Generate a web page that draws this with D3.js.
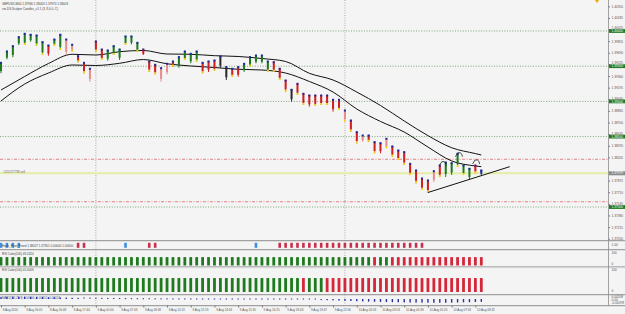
<!DOCTYPE html>
<html>
<head>
<meta charset="utf-8">
<script src="https://cdn.jsdelivr.net/npm/d3@7"></script>
<style>
body { margin: 0; background: #f4f4f4; }
svg { display: block; font-family: "Liberation Sans", Arial, sans-serif; }
</style>
</head>
<body>
<svg id="chart" width="625" height="314"></svg>
<script>
// candles, one entry per bar (high / low / colour kind / yellow tail)
var highs = [1.39555, 1.39716, 1.39791, 1.39919, 1.39967, 1.39953, 1.39943, 1.39848, 1.39801, 1.39886,
    1.39953, 1.39886, 1.39811, 1.39649, 1.39555, 1.39470, 1.39858, 1.39744, 1.39730, 1.39791,
    1.39744, 1.39929, 1.39929, 1.39839, 1.39744, 1.39574, 1.39527, 1.39479, 1.39541, 1.39574,
    1.39635, 1.39716, 1.39683, 1.39716, 1.39555, 1.39574, 1.39588, 1.39645, 1.39493, 1.39470,
    1.39493, 1.39541, 1.39635, 1.39659, 1.39659, 1.39574, 1.39564, 1.39470, 1.39304, 1.39172,
    1.39257, 1.39115, 1.39091, 1.39091, 1.39091, 1.39091, 1.39030, 1.39030, 1.38878, 1.38736,
    1.38570, 1.38523, 1.38523, 1.38428, 1.38413, 1.38476, 1.38367, 1.38310, 1.38286, 1.38121,
    1.38026, 1.37912, 1.37884, 1.38016, 1.38097, 1.38139, 1.38129, 1.38263, 1.38097, 1.38050,
    1.38097, 1.38026];
var lows = [1.39399, 1.39598, 1.39626, 1.39801, 1.39801, 1.39848, 1.39791, 1.39659, 1.39649, 1.39791,
    1.39730, 1.39659, 1.39706, 1.39555, 1.39399, 1.39280, 1.39706, 1.39588, 1.39578, 1.39659,
    1.39588, 1.39801, 1.39811, 1.39706, 1.39659, 1.39422, 1.39385, 1.39280, 1.39385, 1.39493,
    1.39479, 1.39588, 1.39541, 1.39564, 1.39399, 1.39418, 1.39432, 1.39474, 1.39304, 1.39351,
    1.39351, 1.39418, 1.39493, 1.39541, 1.39541, 1.39422, 1.39422, 1.39304, 1.39138, 1.38996,
    1.39091, 1.38949, 1.38925, 1.38935, 1.38949, 1.38949, 1.38854, 1.38878, 1.38712, 1.38570,
    1.38405, 1.38428, 1.38428, 1.38263, 1.38263, 1.38334, 1.38215, 1.38168, 1.38097, 1.37955,
    1.37837, 1.37742, 1.37706, 1.37855, 1.37926, 1.37926, 1.37955, 1.38068, 1.37955, 1.37894,
    1.37979, 1.37955];
var kinds = ["g","g","g","g","g","g","g","g","r","g",
    "g","p","p","r","r","p","r","r","g","g",
    "g","g","g","g","r","r","r","p","p","r",
    "g","g","g","g","r","r","r","k","k","r",
    "r","g","g","g","g","g","r","r","r","k",
    "r","r","r","r","r","r","r","r","p","r",
    "r","p","r","r","r","p","r","r","r","r",
    "r","r","r","p","r","g","g","g","g","g",
    "r","b"];
var tails = [0,0,0,0,1,0,1,1,0,1, 1,0,1,1,1,0,1,1,0,1, 0,1,0,1,0,1,1,0,0,1,
    0,1,0,1,1,0,1,0,0,1, 0,0,1,0,0,1,1,1,1,0, 1,1,0,1,1,1,0,1,1,1,
    1,0,1,1,0,1,1,1,1,1, 1,1,1,0,1,0,0,1,1,0, 1,0];

// two moving averages, read every 4th bar
var maBars = [0,4,8,12,16,20,24,28,32,36,40,44,48,52,56,60,64,68,72,76,80,81];
var maUpper = [1.39162,1.39354,1.39538,1.39669,1.39659,1.39706,1.39723,1.39673,1.39669,1.39649,1.39638,
    1.39609,1.39567,1.39399,1.39304,1.39133,1.38942,1.38722,1.38514,1.38342,1.38259,1.38239];
var maLower = [1.39006,1.39247,1.39403,1.39517,1.39510,1.39541,1.39595,1.39534,1.39503,1.39481,1.39456,
    1.39446,1.39403,1.39283,1.39133,1.38892,1.38715,1.38565,1.38352,1.38154,1.38083,1.38073];

// drawn objects
var trendBars = [72, 85.8];
var trendPrices = [1.37706, 1.38073];
var hatBars = [74.6, 77.3, 80.2];
var hatPrices = [1.38144, 1.38271, 1.38168];
var roundLevels = [1.40000, 1.39500, 1.39000, 1.38500, 1.37500];
var pivotLevels = [1.38178, 1.37575];
var orderPrice = 1.37979;
var separatorBars = [16, 58];

// right scale + time scale
var priceTicks = [1.40350, 1.40185, 1.40020, 1.39855, 1.39690, 1.39525, 1.39360, 1.39195, 1.39030, 1.38865,
    1.38700, 1.38535, 1.38370, 1.38205, 1.37875, 1.37710, 1.37545, 1.37380, 1.37215, 1.37050];
var timeBars = [0,4,8,12,16,20,24,28,32,36,40,44,48,52,56,60,64,68,72,76,80];
var timeLabels = ["8 Aug 2020","8 Aug 16:05","8 Aug 16:48","8 Aug 17:44","9 Aug 00:00","9 Aug 07:43",
    "9 Aug 08:48","9 Aug 10:13","9 Aug 12:19","9 Aug 14:06","9 Aug 15:35","9 Aug 16:25","9 Aug 18:03",
    "9 Aug 19:47","9 Aug 22:06","10 Aug 02:03","10 Aug 03:03","10 Aug 04:39","10 Aug 05:20",
    "10 Aug 07:03","10 Aug 08:32"];

// sub windows
var pivotSignal = [1,1,1,1,0,0,0,0,0,0, 0,0,0,-1,-1,0,0,0,0,0, 0,1,0,0,0,-1,-1,0,0,0,
    0,0,0,0,0,0,0,0,0,0, 0,0,0,1,0,0,0,-1,-1,-1, -1,-1,-1,-1,-1,-1,-1,-1,-1,-1,
    -1,-1,-1,-1,-1,-1,-1,-1,-1,-1, -1,-1,0,0,0,0,0,0,0,0, 0,0];
var rsi200 = [57.8,57.9,58.1,58.3,58.4,58.5,58.5,58.4,58.3,58.3,
    58.3,58.2,58.0,57.8,57.5,57.2,57.0,56.9,56.9,56.9,
    57.0,57.1,57.1,57.1,57.0,56.7,56.4,56.1,55.9,55.7,
    55.7,55.7,55.7,55.7,55.4,55.2,55.0,54.9,54.6,54.4,
    54.3,54.3,54.4,54.5,54.5,54.4,54.2,53.9,53.5,53.1,
    52.8,52.5,52.2,52.0,51.8,51.6,51.4,51.2,50.9,50.6,
    50.4,50.2,50.1,49.9,50.1,50.1,49.8,49.6,49.4,49.1,
    48.9,48.7,48.6,48.7,48.8,48.9,49.0,49.1,49.2,49.2,
    49.2,49.2424];
var rsi100 = [58.9,59.2,59.6,60.0,60.3,60.5,60.4,60.2,59.8,59.7,
    59.7,59.5,59.1,58.6,57.9,57.2,56.9,56.7,56.6,56.7,
    56.9,57.1,57.2,57.2,56.9,56.3,55.7,55.2,54.9,54.8,
    54.9,55.1,55.1,55.2,54.7,54.3,54.1,53.9,53.4,53.1,
    53.0,53.1,53.3,53.6,53.7,53.5,53.0,52.4,51.6,51.0,
    50.4,49.8,50.2,50.3,50.1,49.6,48.9,48.3,47.8,47.1,
    46.5,46.1,45.8,45.5,45.2,45.0,44.7,44.4,44.1,43.7,
    43.4,43.1,43.0,43.3,43.6,44.0,44.4,44.9,45.2,45.4,
    45.6,45.6058];
var macdHist = [0.00150,0.00155,0.00160,0.00160,0.00158,0.00152,0.00146,0.00138,0.00128,0.00118,
    0.00108,0.00098,0.00088,0.00078,0.00068,0.00060,0.00052,0.00046,0.00040,0.00036,
    0.00032,0.00028,0.00025,0.00022,0.00019,0.00016,0.00013,0.00011,0.00009,0.00007,
    0.00006,0.00005,0.00005,0.00004,0.00003,0.00003,0.00002,0.00002,0.00001,0.00001,
    0.00000,-0.00001,-0.00001,-0.00002,-0.00003,-0.00004,-0.00006,-0.00010,-0.00016,-0.00024,
    -0.00032,-0.00042,-0.00052,-0.00062,-0.00072,-0.00082,-0.00094,-0.00108,-0.00122,-0.00136,
    -0.00150,-0.00164,-0.00176,-0.00188,-0.00198,-0.00208,-0.00218,-0.00226,-0.00234,-0.00240,
    -0.00246,-0.00250,-0.00254,-0.00256,-0.00256,-0.00254,-0.00248,-0.00240,-0.00230,-0.00218,
    -0.00206,-0.00194];

var candleColor = { g: "#1f7a1f", r: "#cf1f24", p: "#e88c8c", k: "#2b2b2b", b: "#2233aa" };

var svg = d3.select("#chart");
var W = 625, axisX = 608.5;

svg.append("rect").attr("width", W).attr("height", 314).attr("fill", "#f4f4f4");

var x = d3.scaleLinear().domain([0, 81]).range([1, 481.3]);
var y = d3.scaleLinear().domain([1.37060, 1.40440]).range([238, 0]);
var yRsiB = d3.scaleLinear().domain([0, 100]).range([265.5, 252]);
var yRsiC = d3.scaleLinear().domain([0, 100]).range([292, 269.5]);
var yMacd = d3.scaleLinear().domain([-0.00378, 0.00208]).range([304.5, 296]);
var rsiLevel = 62;   // histogram top used by the RSI Color windows

var main = svg.append("g");

// period separators
main.selectAll("line.sep").data(separatorBars).enter().append("line")
    .attr("x1", function(d) { return x(d); }).attr("x2", function(d) { return x(d); })
    .attr("y1", 0).attr("y2", 305)
    .attr("stroke", "#9a9a9a").attr("stroke-width", 0.8).attr("stroke-dasharray", "1,1.5");

// round number levels
main.selectAll("line.lvl").data(roundLevels).enter().append("line")
    .attr("x1", 0).attr("x2", axisX)
    .attr("y1", function(d) { return y(d); }).attr("y2", function(d) { return y(d); })
    .attr("stroke", "#6f9a6f").attr("stroke-width", 0.9).attr("stroke-dasharray", "1,1.6");

main.selectAll("line.piv").data(pivotLevels).enter().append("line")
    .attr("x1", 0).attr("x2", axisX)
    .attr("y1", function(d) { return y(d); }).attr("y2", function(d) { return y(d); })
    .attr("stroke", "#e07474").attr("stroke-width", 0.9).attr("stroke-dasharray", "3,1.5,1,1.5");

main.append("line")
    .attr("x1", 0).attr("x2", axisX).attr("y1", y(orderPrice)).attr("y2", y(orderPrice))
    .attr("stroke", "#e6eda6").attr("stroke-width", 2);
main.append("text").attr("x", 3).attr("y", y(orderPrice) - 0.6)
    .attr("font-size", 3).attr("fill", "#666").text("#210727738 sell");

// moving averages
var maLine = d3.line()
    .x(function(d) { return x(d[0]); })
    .y(function(d) { return y(d[1]); })
    .curve(d3.curveMonotoneX);
[maUpper, maLower].forEach(function(series) {
    main.append("path")
        .datum(maBars.map(function(b, i) { return [b, series[i]]; }))
        .attr("d", maLine).attr("fill", "none")
        .attr("stroke", "#111").attr("stroke-width", 1);
});

// candles
var bars = highs.map(function(h, i) {
    return { i: i, hi: h, lo: lows[i], kind: kinds[i], tail: tails[i] };
});
var candle = main.selectAll("g.c").data(bars).enter().append("g");
candle.append("line")
    .attr("x1", function(d) { return x(d.i); }).attr("x2", function(d) { return x(d.i); })
    .attr("y1", function(d) { return y(d.hi); })
    .attr("y2", function(d) { return y(d.lo); })
    .attr("stroke", function(d) { return candleColor[d.kind]; }).attr("stroke-width", 1);
candle.append("rect")
    .attr("x", function(d) { return x(d.i) - 1; }).attr("width", 2)
    .attr("y", function(d) { return y(d.hi); })
    .attr("height", function(d) { return (y(d.lo) - y(d.hi)) * 0.8; })
    .attr("fill", function(d) { return candleColor[d.kind]; });
candle.append("rect")
    .attr("x", function(d) { return x(d.i) - 1; }).attr("width", 2)
    .attr("y", function(d) { return y(d.hi) - 0.5; }).attr("height", 2)
    .attr("fill", "#1d2a9c");
candle.filter(function(d) { return d.tail; }).append("rect")
    .attr("x", function(d) { return x(d.i) - 1; }).attr("width", 2)
    .attr("y", function(d) { return y(d.lo) - 2; }).attr("height", 2)
    .attr("fill", "#f2d21b");

// trendline and the little hat marks
main.append("line")
    .attr("x1", x(trendBars[0])).attr("y1", y(trendPrices[0]))
    .attr("x2", x(trendBars[1])).attr("y2", y(trendPrices[1]))
    .attr("stroke", "#111").attr("stroke-width", 1);
main.selectAll("path.hat").data(hatBars).enter().append("path")
    .attr("d", function(d, i) {
        var cx = x(d), cy = y(hatPrices[i]);
        return "M" + (cx - 4) + "," + (cy + 4) + " L" + (cx - 1.5) + "," + cy +
            " Q" + (cx + 1) + "," + (cy - 0.8) + " " + (cx + 2.5) + "," + (cy + 1.5) +
            " L" + (cx + 3) + "," + (cy + 4);
    })
    .attr("fill", "none").attr("stroke", "#222").attr("stroke-width", 0.8);

// header text
main.append("text").attr("x", 2).attr("y", 4.5).attr("font-size", 3).attr("fill", "#444")
    .text("GBPUSD,M44  1.37990 1.38003 1.37970 1.38003");
main.append("text").attr("x", 2).attr("y", 9.5).attr("font-size", 3).attr("fill", "#444")
    .text("cm-DS.Scalper Candles_v1.1 (3, 8,0.0, C)");
main.append("path").attr("d", "M595,0 L599,0 L597,3 Z").attr("fill", "#f0a800");

// sub window A: pivot markers
svg.append("g").selectAll("rect")
    .data(pivotSignal.map(function(v, i) { return [i, v]; }).filter(function(d) { return d[1] !== 0; }))
    .enter().append("rect")
    .attr("x", function(d) { return x(d[0]) - 1.3; }).attr("width", 2.6)
    .attr("y", 242.8).attr("height", 5)
    .attr("fill", function(d) { return d[1] > 0 ? "#3f8fe0" : "#c7304d"; });
svg.append("text").attr("x", 2).attr("y", 246.5).attr("font-size", 3).attr("fill", "#444")
    .text("Hash_Pivot_Fixed 1.38027 1.37951 0.00000 1.00000");

// sub windows B and C: RSI colour histograms
function rsiBars(values, yScale) {
    svg.append("g").selectAll("rect").data(values).enter().append("rect")
        .attr("x", function(d, i) { return x(i) - 1.4; }).attr("width", 2.8)
        .attr("y", yScale(rsiLevel)).attr("height", yScale(0) - yScale(rsiLevel))
        .attr("fill", function(d) { return d >= 50 ? "#1f7a1f" : "#d3283a"; });
}
rsiBars(rsi200, yRsiB);
rsiBars(rsi100, yRsiC);
svg.append("text").attr("x", 2).attr("y", 255).attr("font-size", 3).attr("fill", "#444")
    .text("RSI Color(200) " + rsi200[rsi200.length - 1].toFixed(4));
svg.append("text").attr("x", 2).attr("y", 271).attr("font-size", 3).attr("fill", "#444")
    .text("RSI Color(100) " + rsi100[rsi100.length - 1].toFixed(4));

// sub window D: histogram
svg.append("g").selectAll("rect").data(macdHist).enter().append("rect")
    .attr("x", function(d, i) { return x(i) - 0.7; }).attr("width", 1.4)
    .attr("y", function(d) { return Math.min(yMacd(d), yMacd(0)) - (Math.abs(yMacd(d) - yMacd(0)) < 1 ? 0.5 : 0); })
    .attr("height", function(d) { return Math.max(1, Math.abs(yMacd(d) - yMacd(0))); })
    .attr("fill", "#2a2f9a");
svg.append("text").attr("x", 2).attr("y", 298.5).attr("font-size", 3).attr("fill", "#3a4aa0")
    .text("MACD(12,26,9) 0.00000 -0.00152 -0.00024");

// window borders
[240.5, 249.5, 266.8, 294.5, 305.5].forEach(function(v) {
    svg.append("line").attr("x1", 0).attr("x2", W).attr("y1", v).attr("y2", v)
        .attr("stroke", "#8c8c8c").attr("stroke-width", 0.8);
    svg.append("line").attr("x1", 0).attr("x2", W).attr("y1", v + 1).attr("y2", v + 1)
        .attr("stroke", "#d0d0d0").attr("stroke-width", 0.6);
});
svg.append("line").attr("x1", axisX).attr("x2", axisX).attr("y1", 0).attr("y2", 305.5)
    .attr("stroke", "#8c8c8c").attr("stroke-width", 0.8);

// price axis; labels next to a round level sit just above its box
function nearRound(v) {
    return roundLevels.some(function(r) { return Math.abs(y(r) - y(v)) < 4; });
}
var yAxis = svg.append("g").attr("transform", "translate(" + axisX + ",0)")
    .call(d3.axisRight(y).tickValues(priceTicks).tickSize(1.5).tickFormat(d3.format(".5f")));
yAxis.select(".domain").remove();
yAxis.selectAll("text").attr("font-size", 3.2).attr("fill", "#555").attr("x", 3)
    .attr("font-family", "Liberation Sans, Arial, sans-serif")
    .attr("dy", function(d) {
        if (!nearRound(d)) return "0.32em";
        var r = roundLevels.filter(function(q) { return Math.abs(y(q) - y(d)) < 4; })[0];
        return (y(r) - 2.2 - y(d)) + "px";
    });
yAxis.selectAll("line").attr("stroke", "#777");

svg.selectAll("g.rl").data(roundLevels).enter().append("g")
    .attr("transform", function(d) { return "translate(" + (axisX + 0.5) + "," + y(d) + ")"; })
    .each(function(d) {
        var g = d3.select(this);
        g.append("rect").attr("x", 0).attr("y", -1.9).attr("width", 17).attr("height", 3.8).attr("fill", "#237a23");
        g.append("text").attr("x", 2.5).attr("y", 1.1).attr("font-size", 3.2).attr("fill", "#fff").text(d3.format(".5f")(d));
    });
var cur = svg.append("g").attr("transform", "translate(" + (axisX + 0.5) + "," + y(orderPrice) + ")");
cur.append("rect").attr("x", 0).attr("y", -2).attr("width", 17).attr("height", 4).attr("fill", "#8a8a8a");
cur.append("text").attr("x", 2.5).attr("y", 1.1).attr("font-size", 3.2).attr("fill", "#fff").text(d3.format(".5f")(orderPrice));

// sub window scale labels
var subLabels = [["1.00", 245.5], ["100", 253.5], ["0", 265], ["100", 271], ["0", 291.5],
    ["0.00208", 297.5], ["0.00", 300.8], ["-0.00378", 304.3]];
svg.selectAll("text.sl").data(subLabels).enter().append("text")
    .attr("x", axisX + 3).attr("y", function(d) { return d[1]; })
    .attr("font-size", 3.2).attr("fill", "#555").text(function(d) { return d[0]; });

// time axis
var xAxis = svg.append("g").attr("transform", "translate(0,305.5)")
    .call(d3.axisBottom(x).tickValues(timeBars).tickSize(2)
        .tickFormat(function(d, i) { return timeLabels[i]; }));
xAxis.select(".domain").remove();
xAxis.selectAll("text").attr("font-size", 3).attr("fill", "#555")
    .attr("text-anchor", "start").attr("dx", 1.2).attr("y", 3.5)
    .attr("font-family", "Liberation Sans, Arial, sans-serif");
xAxis.selectAll("line").attr("stroke", "#777");
</script>
</body>
</html>
